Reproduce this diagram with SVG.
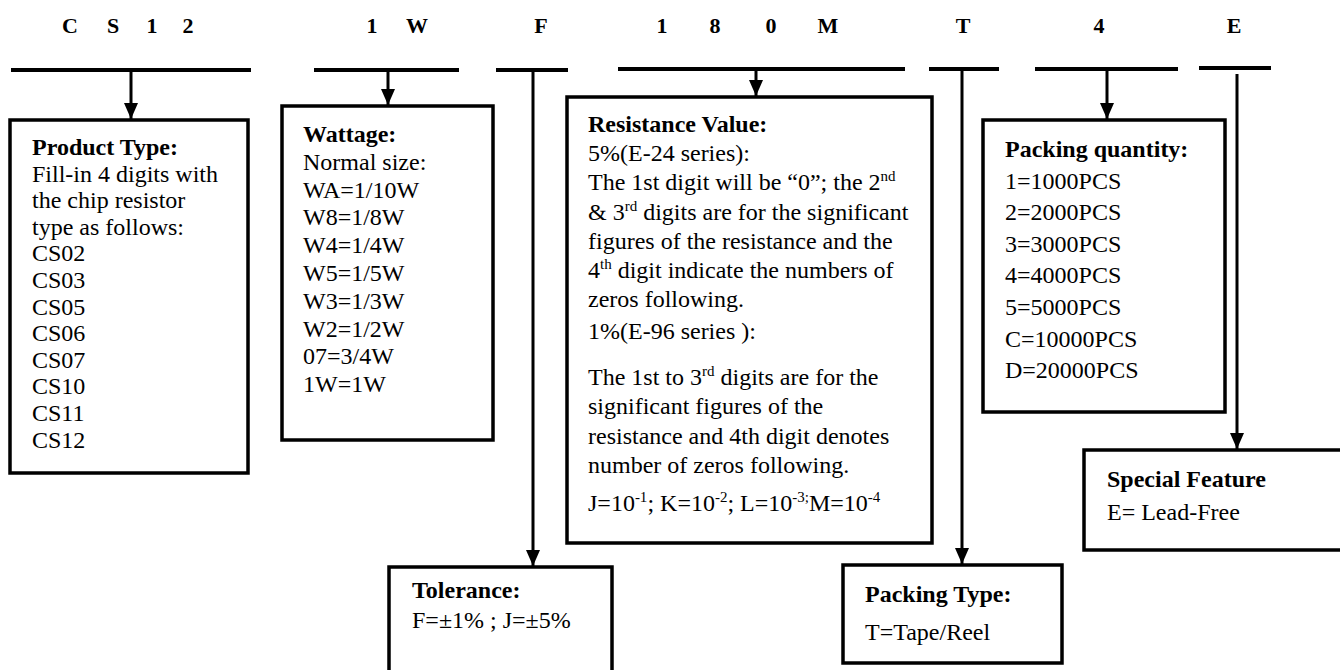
<svg xmlns="http://www.w3.org/2000/svg" width="1340" height="670" viewBox="0 0 1340 670">
<style>
.hd{font-family:"Liberation Serif","Times New Roman",serif;font-weight:bold;font-size:22px;fill:#000;text-anchor:middle}
.t{font-family:"Liberation Serif","Times New Roman",serif;font-size:24px;fill:#000}
.b{font-weight:bold}
.box{fill:#fff;stroke:#000;stroke-width:3.5}
.bar{stroke:#000;stroke-width:4;fill:none}
.con{stroke:#000;stroke-width:3;fill:none;marker-end:url(#ah)}
.sup{font-size:15px}
</style>
<defs>
<marker id="ah" markerUnits="userSpaceOnUse" markerWidth="16" markerHeight="14" refX="16" refY="7" orient="auto">
<path d="M0,0 L16,7 L0,14 Z" fill="#000"/>
</marker>
</defs>
<rect width="1340" height="670" fill="#fff"/>
<g id="header">
<text class="hd" x="70" y="33">C</text>
<text class="hd" x="113" y="33">S</text>
<text class="hd" x="152" y="33">1</text>
<text class="hd" x="188" y="33">2</text>
<text class="hd" x="372" y="33">1</text>
<text class="hd" x="417" y="33">W</text>
<text class="hd" x="541" y="33">F</text>
<text class="hd" x="662" y="33">1</text>
<text class="hd" x="715" y="33">8</text>
<text class="hd" x="771" y="33">0</text>
<text class="hd" x="828" y="33">M</text>
<text class="hd" x="963" y="33">T</text>
<text class="hd" x="1099" y="33">4</text>
<text class="hd" x="1234" y="33">E</text>
</g>
<g id="connectors">
<line class="bar" x1="11" y1="70" x2="251" y2="70"/>
<line class="bar" x1="314" y1="70" x2="459" y2="70"/>
<line class="bar" x1="496" y1="70" x2="568" y2="70"/>
<line class="bar" x1="618" y1="69" x2="905" y2="69"/>
<line class="bar" x1="929" y1="69" x2="999" y2="69"/>
<line class="bar" x1="1035" y1="69" x2="1178" y2="69"/>
<line class="bar" x1="1199" y1="68" x2="1271" y2="68"/>
<line class="con" x1="131" y1="70" x2="131" y2="119"/>
<line class="con" x1="388" y1="70" x2="388" y2="105"/>
<line class="con" x1="533" y1="70" x2="533" y2="566"/>
<line class="con" x1="756" y1="69" x2="756" y2="96"/>
<line class="con" x1="962" y1="69" x2="962" y2="564"/>
<line class="con" x1="1107" y1="69" x2="1107" y2="119"/>
<line class="con" x1="1237" y1="74" x2="1237" y2="449"/>
</g>
<g id="product-type">
<rect class="box" x="10" y="120" width="238" height="353"/>
<text class="t" x="32" y="155"><tspan class="b">Product Type:</tspan><tspan x="32" dy="26.6">Fill-in 4 digits with</tspan><tspan x="32" dy="26.6">the chip resistor</tspan><tspan x="32" dy="26.6">type as follows:</tspan><tspan x="32" dy="26.6">CS02</tspan><tspan x="32" dy="26.6">CS03</tspan><tspan x="32" dy="26.6">CS05</tspan><tspan x="32" dy="26.6">CS06</tspan><tspan x="32" dy="26.6">CS07</tspan><tspan x="32" dy="26.6">CS10</tspan><tspan x="32" dy="26.6">CS11</tspan><tspan x="32" dy="26.6">CS12</tspan></text>
</g>
<g id="wattage">
<rect class="box" x="282" y="106" width="211" height="334"/>
<text class="t" x="303" y="142"><tspan class="b">Wattage:</tspan><tspan x="303" dy="27.8">Normal size:</tspan><tspan x="303" dy="27.8">WA=1/10W</tspan><tspan x="303" dy="27.8">W8=1/8W</tspan><tspan x="303" dy="27.8">W4=1/4W</tspan><tspan x="303" dy="27.8">W5=1/5W</tspan><tspan x="303" dy="27.8">W3=1/3W</tspan><tspan x="303" dy="27.8">W2=1/2W</tspan><tspan x="303" dy="27.8">07=3/4W</tspan><tspan x="303" dy="27.8">1W=1W</tspan></text>
</g>
<g id="resistance-value">
<rect class="box" x="567" y="97" width="365" height="446"/>
<text class="t b" x="588" y="132">Resistance Value:</text>
<text class="t" x="588" y="161">5%(E-24 series):</text>
<text class="t" x="588" y="190">The 1st digit will be “0”; the 2<tspan class="sup" dy="-9">nd</tspan></text>
<text class="t" x="588" y="220">&amp; 3<tspan class="sup" dy="-9">rd</tspan><tspan dy="9"> digits are for the significant</tspan></text>
<text class="t" x="588" y="249">figures of the resistance and the</text>
<text class="t" x="588" y="278">4<tspan class="sup" dy="-9">th</tspan><tspan dy="9"> digit indicate the numbers of</tspan></text>
<text class="t" x="588" y="307">zeros following.</text>
<text class="t" x="588" y="339">1%(E-96 series ):</text>
<text class="t" x="588" y="385">The 1st to 3<tspan class="sup" dy="-9">rd</tspan><tspan dy="9"> digits are for the</tspan></text>
<text class="t" x="588" y="414">significant figures of the</text>
<text class="t" x="588" y="444">resistance and 4th digit denotes</text>
<text class="t" x="588" y="473">number of zeros following.</text>
<text class="t" x="588" y="511">J=10<tspan class="sup" dy="-9">-1</tspan><tspan dy="9">; K=10</tspan><tspan class="sup" dy="-9">-2</tspan><tspan dy="9">; L=10</tspan><tspan class="sup" dy="-9">-3;</tspan><tspan dy="9">M=10</tspan><tspan class="sup" dy="-9">-4</tspan></text>
</g>
<g id="tolerance">
<rect class="box" x="389" y="567" width="223" height="120"/>
<text class="t" x="412" y="598"><tspan class="b">Tolerance:</tspan><tspan x="412" dy="30">F=±1% ; J=±5%</tspan></text>
</g>
<g id="packing-quantity">
<rect class="box" x="983" y="120" width="242" height="292"/>
<text class="t" x="1005" y="157"><tspan class="b">Packing quantity:</tspan><tspan x="1005" dy="31.6">1=1000PCS</tspan><tspan x="1005" dy="31.6">2=2000PCS</tspan><tspan x="1005" dy="31.6">3=3000PCS</tspan><tspan x="1005" dy="31.6">4=4000PCS</tspan><tspan x="1005" dy="31.6">5=5000PCS</tspan><tspan x="1005" dy="31.6">C=10000PCS</tspan><tspan x="1005" dy="31.6">D=20000PCS</tspan></text>
</g>
<g id="special-feature">
<rect class="box" x="1084" y="450" width="270" height="100"/>
<text class="t" x="1107" y="487"><tspan class="b">Special Feature</tspan><tspan x="1107" dy="33">E= Lead-Free</tspan></text>
</g>
<g id="packing-type">
<rect class="box" x="843" y="565" width="219" height="98"/>
<text class="t" x="865" y="602"><tspan class="b">Packing Type:</tspan><tspan x="865" dy="38">T=Tape/Reel</tspan></text>
</g>
</svg>
